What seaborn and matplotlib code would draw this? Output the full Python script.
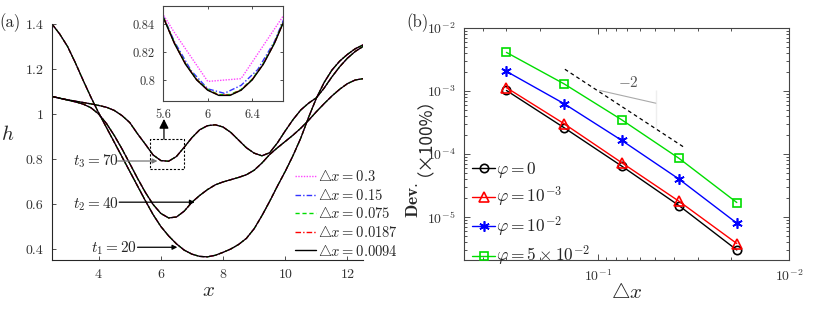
import numpy as np
import pandas as pd
import matplotlib
matplotlib.use("Agg")
import matplotlib.pyplot as plt
import seaborn as sns
from matplotlib.lines import Line2D
from matplotlib.ticker import FixedLocator, FuncFormatter, LogLocator, NullFormatter

sns.set_style("ticks")
plt.rcParams['font.family'] = ['cmr10', 'DejaVu Serif']
plt.rcParams['mathtext.fontset'] = 'cm'
plt.rcParams['axes.formatter.use_mathtext'] = True
plt.rcParams['axes.unicode_minus'] = False

# ---------------- data: panel (a) ----------------
x_grid = [2.5, 2.75, 3.0, 3.25, 3.5, 3.75, 4.0, 4.25, 4.5, 4.75, 5.0, 5.25, 5.5, 5.75,
          6.0, 6.25, 6.5, 6.75, 7.0, 7.25, 7.5, 7.75, 8.0, 8.25, 8.5, 8.75, 9.0, 9.25,
          9.5, 9.75, 10.0, 10.25, 10.5, 10.75, 11.0, 11.25, 11.5, 11.75, 12.0, 12.25, 12.5]
h_t1 = [1.400, 1.355, 1.300, 1.228, 1.150, 1.075, 1.005, 0.940, 0.875, 0.810, 0.745, 0.680,
        0.615, 0.553, 0.500, 0.458, 0.423, 0.395, 0.377, 0.367, 0.365, 0.372, 0.385, 0.400,
        0.420, 0.447, 0.490, 0.548, 0.612, 0.680, 0.745, 0.815, 0.893, 0.985, 1.070, 1.140,
        1.195, 1.235, 1.265, 1.290, 1.307]
h_t2 = [1.078, 1.070, 1.062, 1.054, 1.044, 1.028, 1.000, 0.958, 0.905, 0.845, 0.780, 0.714,
        0.652, 0.598, 0.558, 0.538, 0.542, 0.568, 0.608, 0.638, 0.664, 0.685, 0.698, 0.708,
        0.718, 0.730, 0.750, 0.782, 0.820, 0.850, 0.878, 0.906, 0.937, 0.972, 1.010, 1.046,
        1.080, 1.110, 1.135, 1.151, 1.157]
h_t3 = [1.078, 1.070, 1.063, 1.057, 1.051, 1.045, 1.038, 1.030, 1.016, 0.993, 0.962, 0.912,
        0.866, 0.818, 0.793, 0.790, 0.811, 0.852, 0.895, 0.930, 0.948, 0.952, 0.942, 0.918,
        0.884, 0.850, 0.826, 0.814, 0.828, 0.872, 0.925, 0.975, 1.018, 1.048, 1.072, 1.115,
        1.165, 1.210, 1.248, 1.278, 1.300]

dx_labels = [r'${\bigtriangleup}x = 0.3$', r'${\bigtriangleup}x = 0.15$',
             r'${\bigtriangleup}x = 0.075$', r'${\bigtriangleup}x = 0.0187$',
             r'${\bigtriangleup}x = 0.0094$']

# inset (zoom of t3 minimum)
ins_x_03 = [5.4, 5.7, 6.0, 6.3, 6.6, 6.9]
ins_h_03 = [0.872, 0.834, 0.799, 0.801, 0.8365, 0.872]
ins_x_015 = [5.55, 5.7, 5.85, 6.0, 6.15, 6.3, 6.45, 6.6, 6.75]
ins_h_015 = [0.8545, 0.8275, 0.8068, 0.7937, 0.7905, 0.7962, 0.8075, 0.8275, 0.8560]
ins_x_fine = [5.5, 5.6, 5.7, 5.8, 5.9, 6.0, 6.1, 6.2, 6.3, 6.4, 6.5, 6.6, 6.7, 6.8]
ins_h_0075 = [0.8650, 0.8453, 0.8267, 0.8118, 0.8006, 0.7932, 0.7896, 0.7896, 0.7932,
              0.8006, 0.8118, 0.8267, 0.8453, 0.8675]
ins_h_00187 = [0.8647, 0.8450, 0.8264, 0.8115, 0.8003, 0.7929, 0.7892, 0.7892, 0.7929,
               0.8003, 0.8115, 0.8264, 0.8450, 0.8672]
ins_h_00094 = [0.8645, 0.8448, 0.8262, 0.8113, 0.8001, 0.7927, 0.7890, 0.7890, 0.7927,
               0.8001, 0.8113, 0.8262, 0.8448, 0.8670]

# ---------------- data: panel (b) ----------------
dx_vals = [0.3, 0.15, 0.075, 0.0375, 0.01875]
dev_phi0 = [1.02e-3, 2.62e-4, 6.45e-5, 1.51e-5, 3.0e-6]
dev_phi1 = [1.13e-3, 3.03e-4, 7.3e-5, 1.77e-5, 3.8e-6]
dev_phi2 = [2.05e-3, 6.3e-4, 1.65e-4, 3.98e-5, 8.0e-6]
dev_phi3 = [4.1e-3, 1.3e-3, 3.5e-4, 8.5e-5, 1.7e-5]
phi_labels = [r'$\varphi = 0$', r'$\varphi = 10^{-3}$', r'$\varphi = 10^{-2}$',
              r'$\varphi = 5\times10^{-2}$']
ref_x = [0.151, 0.0358]
ref_y = [2.29e-3, 1.31e-4]
tri_x = [0.0976, 0.0497, 0.0497]
tri_y = [1.02e-3, 1.02e-3, 2.61e-4]

# ---------------- figure ----------------
W, H = 830, 311
fig = plt.figure(figsize=(W / 100, H / 100), dpi=100)

def fx(px):
    return px / W

def fy(py):
    return 1 - py / H

ax1 = fig.add_axes([fx(52), fy(260), (363 - 52) / W, (260 - 24) / H])
ax2 = fig.add_axes([fx(464), fy(260), (789 - 464) / W, (260 - 28) / H])
axin = fig.add_axes([fx(163.3), fy(101), (283.3 - 163.3) / W, (101 - 6) / H])

tick_col = '#333333'
styles = [dict(color='#ff44ff', ls=(0, (1, 1))),
          dict(color='#3333ff', ls=(0, (4, 1.5, 1, 1.5))),
          dict(color='#00dd00', ls=(0, (3, 2))),
          dict(color='#ff0000', ls=(0, (4, 1.5, 1, 1.5))),
          dict(color='black', ls='-')]

# main curves
main_df = pd.DataFrame({'x': x_grid, 't1': h_t1, 't2': h_t2, 't3': h_t3})
for i, st in enumerate(styles):
    for j, col in enumerate(['t1', 't2', 't3']):
        sns.lineplot(data=main_df, x='x', y=col, ax=ax1, color=st['color'],
                     linestyle=st['ls'], lw=0.9, legend=False)

ax1.set_xlim(2.5, 12.5)
ax1.set_ylim(0.351, 1.4)
ax1.set_xticks([4, 6, 8, 10, 12])
ax1.set_yticks([0.4, 0.6, 0.8, 1.0, 1.2, 1.4])
ax1.set_yticklabels(['0.4', '0.6', '0.8', '1', '1.2', '1.4'])
ax1.set_xlabel('')
ax1.set_ylabel('')
for s in ['top', 'right']:
    ax1.spines[s].set_visible(False)
for s in ['left', 'bottom']:
    ax1.spines[s].set_color('#262626')
    ax1.spines[s].set_linewidth(0.8)
ax1.tick_params(direction='in', length=3, width=0.6, labelsize=10, colors=tick_col, pad=6)

# legend (a)
handles = [Line2D([], [], color=st['color'], ls=st['ls'], lw=1.0) for st in styles]
ax1.legend(handles, dx_labels, loc='upper left', bbox_to_anchor=(fx(295), fy(169)),
           bbox_transform=fig.transFigure, frameon=False, fontsize=10.5,
           handlelength=1.45, handletextpad=0.15, labelspacing=0.25,
           borderpad=0, borderaxespad=0)

# annotations (a)
ax1.text(3.91, 0.788, r'$t_3 = 70$', fontsize=11, ha='center', va='center')
ax1.annotate('', xy=(5.89, 0.791), xytext=(4.61, 0.791),
             arrowprops=dict(arrowstyle='-|>', color='#777777', lw=0.9,
                             mutation_scale=7, shrinkA=0, shrinkB=0))
ax1.text(3.91, 0.601, r'$t_2 = 40$', fontsize=11, ha='center', va='center')
ax1.annotate('', xy=(7.09, 0.608), xytext=(4.66, 0.608),
             arrowprops=dict(arrowstyle='-|>', color='black', lw=0.9,
                             mutation_scale=7, shrinkA=0, shrinkB=0))
ax1.text(4.5, 0.405, r'$t_1 = 20$', fontsize=11, ha='center', va='center')
ax1.annotate('', xy=(6.53, 0.4076), xytext=(5.25, 0.4076),
             arrowprops=dict(arrowstyle='-|>', color='black', lw=0.9,
                             mutation_scale=7, shrinkA=0, shrinkB=0))
# dashed zoom box and arrow to inset
ax1.plot([5.65, 6.74, 6.74, 5.65, 5.65], [0.754, 0.754, 0.888, 0.888, 0.754],
         color='black', ls=(0, (2, 1.5)), lw=0.8)
ax1.annotate('', xy=(6.1, 0.978), xytext=(6.1, 0.888),
             arrowprops=dict(arrowstyle='-|>', color='black', lw=0.9,
                             mutation_scale=14, shrinkA=0, shrinkB=0))

fig.text(fx(8), fy(135), r'$h$', fontsize=15, ha='center', va='center')
fig.text(fx(208), fy(291), r'$x$', fontsize=15, ha='center', va='center')
fig.text(fx(10), fy(23), '(a)', fontsize=12, ha='center', va='center')
fig.text(fx(417), fy(23), '(b)', fontsize=12, ha='center', va='center')

# inset
ins_sets = [(ins_x_03, ins_h_03), (ins_x_015, ins_h_015), (ins_x_fine, ins_h_0075),
            (ins_x_fine, ins_h_00187), (ins_x_fine, ins_h_00094)]
for st, (xs, hs) in zip(styles, ins_sets):
    sns.lineplot(x=xs, y=hs, ax=axin, color=st['color'], linestyle=st['ls'],
                 lw=1.0, legend=False)
axin.set_xlim(5.6, 6.68)
axin.set_ylim(0.785, 0.853)
axin.set_xticks([5.6, 6.0, 6.4])
axin.set_xticklabels(['5.6', '6', '6.4'])
axin.set_yticks([0.8, 0.82, 0.84])
axin.set_yticklabels(['0.8', '0.82', '0.84'])
axin.tick_params(direction='in', length=2.5, width=0.6, labelsize=9, colors=tick_col,
                 top=True, right=True, pad=6)
for s in axin.spines.values():
    s.set_color('#444444')
    s.set_linewidth(0.8)
axin.set_facecolor('white')

# ---------------- panel (b) ----------------
markers = [dict(marker='o', mfc='none', mec='black', color='black', ms=6),
           dict(marker='^', mfc='none', mec='red', color='red', ms=7.5),
           dict(marker=(6, 2, 0), mfc='blue', mec='blue', color='blue', ms=7.5),
           dict(marker='s', mfc='none', mec='#00dd00', color='#00dd00', ms=5.5)]
series = [dev_phi0, dev_phi1, dev_phi2, dev_phi3]
for mk, ys in zip(markers, series):
    sns.lineplot(x=dx_vals, y=ys, ax=ax2, color=mk['color'], marker=mk['marker'],
                 markerfacecolor=mk['mfc'], markeredgecolor=mk['mec'],
                 markersize=mk['ms'], markeredgewidth=1.2, lw=1.0, legend=False)
sns.lineplot(x=ref_x, y=ref_y, ax=ax2, color='black', linestyle=(0, (3, 2.5)), lw=0.9,
             legend=False)
sns.lineplot(x=tri_x, y=tri_y, ax=ax2, color='#aaaaaa', lw=0.8, legend=False, sort=False)
ax2.set_xscale('log')
ax2.set_yscale('log')
ax2.set_xlim(0.5, 0.01)
ax2.set_ylim(2.08e-6, 1e-2)
ax2.text(0.0693, 1.38e-3, r'$-2$', fontsize=11, color='#555555', ha='center', va='center')

ax2.xaxis.set_major_locator(FixedLocator([1e-1, 1e-2]))
ax2.yaxis.set_major_locator(FixedLocator([1e-5, 1e-4, 1e-3, 1e-2]))
ax2.xaxis.set_minor_locator(LogLocator(base=10, subs=np.arange(2, 10), numticks=20))
ax2.yaxis.set_minor_locator(LogLocator(base=10, subs=np.arange(2, 10), numticks=20))
ax2.xaxis.set_minor_formatter(NullFormatter())
ax2.yaxis.set_minor_formatter(NullFormatter())
fmt = FuncFormatter(lambda v, p: r'$10^{%d}$' % int(round(np.log10(v))))
ax2.xaxis.set_major_formatter(fmt)
ax2.yaxis.set_major_formatter(fmt)
ax2.tick_params(which='both', direction='in', top=True, right=True, colors=tick_col,
                labelsize=10, width=0.6)
ax2.tick_params(which='major', length=4, pad=6)
ax2.tick_params(which='minor', length=2)
for s in ax2.spines.values():
    s.set_color('#444444')
    s.set_linewidth(0.8)
ax2.set_xlabel('')
ax2.set_ylabel('')

leg_handles = [Line2D([], [], color=mk['color'], marker=mk['marker'], mfc=mk['mfc'],
                      mec=mk['mec'], ms=mk['ms'], mew=1.2, lw=1.0) for mk in markers]
ax2.legend(leg_handles, phi_labels, loc='upper left', bbox_to_anchor=(fx(472), fy(160)),
           bbox_transform=fig.transFigure, frameon=False, fontsize=12.5,
           handlelength=1.35, handletextpad=0.05, labelspacing=0.3, numpoints=1,
           borderpad=0, borderaxespad=0)

fig.text(fx(626.7), fy(292), r'${\bigtriangleup}x$', fontsize=15, ha='center', va='center')
fig.text(fx(412.5), fy(200), r'$\mathbf{Dev.}$', fontsize=12.5,
         rotation=90, ha='center', va='center')
fig.text(fx(416), fy(128), '（×100%）', fontsize=12.5, rotation=90, ha='center',
         va='center', family=['Noto Sans CJK SC', 'Liberation Serif'])

fig.savefig('out.png', dpi=100)
